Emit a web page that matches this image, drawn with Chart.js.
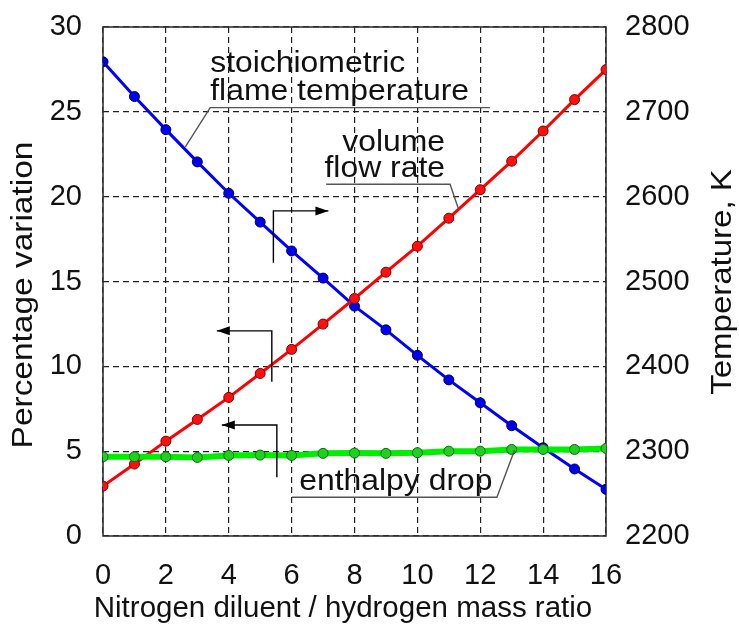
<!DOCTYPE html>
<html>
<head>
<meta charset="utf-8">
<script src="https://cdn.jsdelivr.net/npm/chart.js@4/dist/chart.umd.min.js"></script>
<style>
  html, body { margin: 0; padding: 0; background: #fff; }
  #wrap { width: 739px; height: 639px; position: relative; }
</style>
</head>
<body>
<div id="wrap"><canvas id="c"></canvas></div>
<script>
// N2 diluent / H2 mass ratio
const massRatio = [0, 1, 2, 3, 4, 5, 6, 7, 8, 9, 10, 11, 12, 13, 14, 15, 16];
// stoichiometric flame temperature, K (right axis)
const flameTemperatureK = [2759, 2718, 2679, 2641, 2604, 2570, 2536, 2504, 2471, 2443, 2413, 2384, 2357, 2330, 2304, 2279, 2255];
// volume flow rate, % variation (left axis)
const volumeFlowRatePct = [2.94, 4.24, 5.59, 6.87, 8.17, 9.58, 11.0, 12.49, 14.0, 15.55, 17.08, 18.73, 20.41, 22.09, 23.87, 25.72, 27.49];
// enthalpy drop, % variation (left axis)
const enthalpyDropPct = [4.67, 4.67, 4.67, 4.63, 4.75, 4.77, 4.75, 4.87, 4.89, 4.87, 4.91, 5.0, 5.0, 5.1, 5.1, 5.1, 5.16];

const ratioTicks = [0, 2, 4, 6, 8, 10, 12, 14, 16];
const percentTicks = [0, 5, 10, 15, 20, 25, 30];
const temperatureTicks = [2200, 2300, 2400, 2500, 2600, 2700, 2800];

const FONT = '"Liberation Sans", Arial, Helvetica, sans-serif';
const INK = '#111';

const pts = (ys) => massRatio.map((x, i) => ({ x: x, y: ys[i] }));

function setTicks(values) {
  return (scale) => { scale.ticks = values.map(v => ({ value: v })); };
}

// fixed axis box sizes; label overhang must not push the plot area around
function fixBox(w, h) {
  return (s) => {
    if (w !== null) s.width = w;
    if (h !== null) s.height = h;
    s.paddingTop = 0; s.paddingBottom = 0; s.paddingLeft = 0; s.paddingRight = 0;
  };
}

function polyline(ctx, p) {
  ctx.beginPath();
  ctx.moveTo(p[0][0], p[0][1]);
  for (let i = 1; i < p.length; i++) ctx.lineTo(p[i][0], p[i][1]);
  ctx.stroke();
}

function arrow(ctx, p) {
  polyline(ctx, p);
  const [x1, y1] = p[p.length - 2];
  const [x2, y2] = p[p.length - 1];
  const ang = Math.atan2(y2 - y1, x2 - x1);
  const len = 13, half = 4.5;
  ctx.save();
  ctx.translate(x2, y2);
  ctx.rotate(ang);
  ctx.beginPath();
  ctx.moveTo(0, 0);
  ctx.lineTo(-len, -half);
  ctx.lineTo(-len, half);
  ctx.closePath();
  ctx.fill();
  ctx.restore();
}

function label(ctx, str, x, y, align, sx, rot) {
  ctx.save();
  ctx.translate(x, y);
  if (rot) ctx.rotate(rot);
  ctx.scale(sx, 1);
  ctx.textAlign = align;
  ctx.textBaseline = 'alphabetic';
  ctx.fillText(str, 0, 0);
  ctx.restore();
}

const decor = {
  id: 'decor',
  beforeDatasetsDraw(chart) {
    const { ctx, chartArea: a } = chart;
    ctx.save();
    ctx.strokeStyle = '#333';
    ctx.lineWidth = 1.6;
    ctx.strokeRect(a.left, a.top, a.right - a.left, a.bottom - a.top);
    ctx.restore();
  },
  afterDatasetsDraw(chart) {
    const { ctx } = chart;
    const sx = chart.scales.x, sy = chart.scales.y;
    const P = (dx, dy) => [sx.getPixelForValue(dx), sy.getPixelForValue(dy)];

    // leader lines from the labels to their curves
    ctx.save();
    ctx.strokeStyle = '#555';
    ctx.lineWidth = 1.4;
    polyline(ctx, [P(2.62, 22.93), P(3.41, 25.25), P(12.31, 25.25)]);
    polyline(ctx, [P(7.10, 20.73), P(11.04, 20.73), P(11.30, 19.32)]);
    polyline(ctx, [P(6.01, 2.28), P(12.53, 2.28), P(13.09, 5.05)]);
    ctx.restore();

    // arrows telling which axis each curve uses
    ctx.save();
    ctx.strokeStyle = '#000';
    ctx.fillStyle = '#000';
    ctx.lineWidth = 1.4;
    arrow(ctx, [P(5.42, 16.10), P(5.42, 19.16), P(7.17, 19.16)]);
    arrow(ctx, [P(5.37, 9.09), P(5.37, 12.09), P(3.62, 12.09)]);
    arrow(ctx, [P(5.53, 3.46), P(5.53, 6.54), P(3.78, 6.54)]);
    ctx.restore();

    // curve labels
    ctx.save();
    ctx.fillStyle = INK;
    ctx.font = '29px ' + FONT;
    let q;
    q = P(3.41, 27.34); label(ctx, 'stoichiometric', q[0], q[1], 'left', 1.1);
    q = P(3.41, 25.72); label(ctx, 'flame temperature', q[0], q[1], 'left', 1.1);
    q = P(10.88, 22.67); label(ctx, 'volume', q[0], q[1], 'right', 1.1);
    q = P(10.88, 21.14); label(ctx, 'flow rate', q[0], q[1], 'right', 1.1);
    q = P(6.24, 2.71); label(ctx, 'enthalpy drop', q[0], q[1], 'left', 1.1);
    ctx.restore();
  },
  afterDraw(chart) {
    const { ctx } = chart;
    ctx.save();
    ctx.fillStyle = INK;
    ctx.font = '29.5px ' + FONT;
    label(ctx, 'Nitrogen diluent / hydrogen mass ratio', 343, 617, 'center', 1.0);
    ctx.font = '30px ' + FONT;
    label(ctx, 'Percentage variation', 31.5, 295, 'center', 1.115, -Math.PI / 2);
    label(ctx, 'Temperature, K', 731, 282, 'center', 1.1, -Math.PI / 2);
    ctx.restore();
  }
};

const tickFont = { family: FONT, size: 29 };
const gridStyle = { color: '#222', lineWidth: 1.2, drawTicks: false };
const dash = { display: false, dash: [6, 4] };
const plain = (v) => String(v);

new Chart(document.getElementById('c'), {
  type: 'line',
  data: {
    datasets: [
      {
        label: 'enthalpy drop',
        data: pts(enthalpyDropPct),
        yAxisID: 'y',
        order: 1,
        borderColor: '#00ee00',
        borderWidth: 6,
        pointBackgroundColor: '#1fd01f',
        pointBorderColor: '#0a6a0a',
        pointBorderWidth: 1,
        pointRadius: 5,
        tension: 0
      },
      {
        label: 'volume flow rate',
        data: pts(volumeFlowRatePct),
        yAxisID: 'y',
        order: 2,
        borderColor: '#ff0000',
        borderWidth: 3,
        pointBackgroundColor: '#ff1010',
        pointBorderColor: '#7a0000',
        pointBorderWidth: 1,
        pointRadius: 5,
        tension: 0
      },
      {
        label: 'stoichiometric flame temperature',
        data: pts(flameTemperatureK),
        yAxisID: 'yT',
        order: 3,
        borderColor: '#0000ff',
        borderWidth: 3,
        pointBackgroundColor: '#0000f0',
        pointBorderColor: '#000050',
        pointBorderWidth: 1,
        pointRadius: 5,
        tension: 0
      }
    ]
  },
  options: {
    responsive: true,
    maintainAspectRatio: false,
    animation: false,
    layout: { padding: { top: 27, left: 0, right: 0, bottom: 0 } },
    plugins: { legend: { display: false }, tooltip: { enabled: false } },
    scales: {
      x: {
        type: 'linear',
        min: 0, max: 16,
        afterBuildTicks: setTicks(ratioTicks),
        afterFit: fixBox(null, 103),
        ticks: { font: tickFont, color: INK, padding: 23, maxRotation: 0, autoSkip: false, callback: plain },
        grid: gridStyle,
        border: dash
      },
      y: {
        type: 'linear',
        position: 'left',
        min: 0, max: 30,
        afterBuildTicks: setTicks(percentTicks),
        afterFit: fixBox(103, null),
        ticks: { font: tickFont, color: INK, padding: 21, autoSkip: false, callback: plain },
        grid: gridStyle,
        border: dash
      },
      yT: {
        type: 'linear',
        position: 'right',
        min: 2200, max: 2800,
        afterBuildTicks: setTicks(temperatureTicks),
        afterFit: fixBox(133, null),
        ticks: { font: tickFont, color: INK, padding: 19, autoSkip: false, callback: plain },
        grid: { drawOnChartArea: false, drawTicks: false },
        border: { display: false }
      }
    }
  },
  plugins: [decor]
});
</script>
</body>
</html>
